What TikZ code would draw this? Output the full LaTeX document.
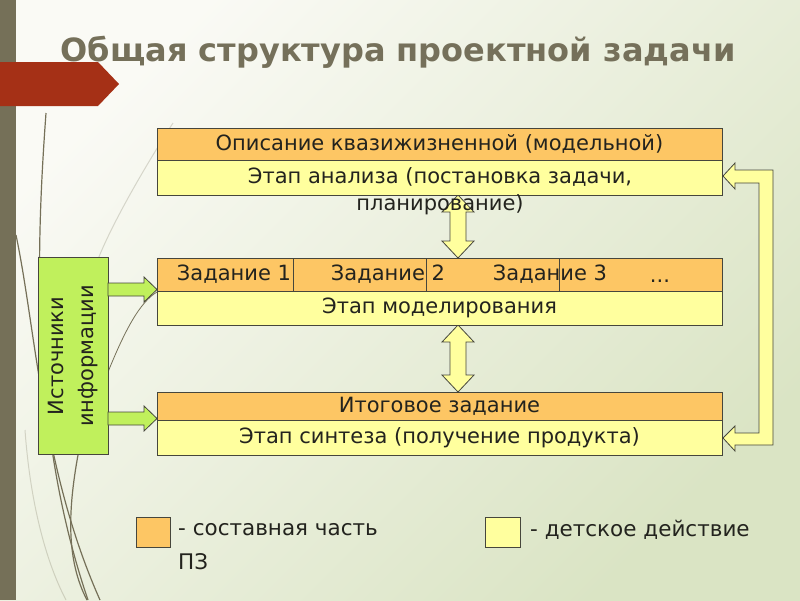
\documentclass[tikz,border=0pt]{standalone}
\usepackage{fontspec}
\setmainfont{DejaVu Sans}
\usetikzlibrary{calc}
\definecolor{bgA}{RGB}{250,250,245}
\definecolor{bgB}{RGB}{218,228,196}
\definecolor{barC}{RGB}{117,112,88}
\definecolor{redC}{RGB}{165,48,22}
\definecolor{titleC}{RGB}{117,112,90}
\definecolor{oraC}{RGB}{253,198,100}
\definecolor{yelC}{RGB}{255,255,158}
\definecolor{grnC}{RGB}{192,240,92}
\definecolor{lineC}{RGB}{70,70,60}
\definecolor{txtC}{RGB}{35,35,30}
\tikzset{
  obox/.style={draw=lineC, line width=0.8pt, fill=oraC, inner sep=0pt, text=txtC, font=\fontsize{21}{24}\selectfont},
  ybox/.style={draw=lineC, line width=0.8pt, fill=yelC, inner sep=0pt, text=txtC, font=\fontsize{21}{24}\selectfont},
  lbl/.style={inner sep=0pt, text=txtC, font=\fontsize{21}{24}\selectfont},
  yarrow/.style={draw=lineC, line width=0.8pt, fill=yelC, line join=miter},
  garrow/.style={draw=lineC, line width=0.8pt, fill=grnC, line join=miter},
  deco/.style={draw=barC, line width=1.2pt},
  decol/.style={draw=barC, line width=1pt, opacity=0.25}
}
\begin{document}
\begin{tikzpicture}[x=1pt,y=-1pt]
\useasboundingbox (0,0) rectangle (800,600);
\shade[top color=bgA, bottom color=bgB, shading angle=45] (0,0) rectangle (800,600);
% decorative strokes
\draw[decol] (173,123) .. controls (130,190) and (105,240) .. (97,262);
\draw[decol] (25,430) .. controls (30,500) and (45,560) .. (66,600);
\draw[deco] (46,113) .. controls (36,250) and (30,430) .. (88,600);
\draw[deco] (16,235) .. controls (36,330) and (42,470) .. (100,600);
\draw[deco] (78,455) .. controls (68,510) and (66,560) .. (87,600);
\draw[deco, line width=0.8pt] (108,372) .. controls (125,330) and (140,302) .. (157,292);
% left bar and banner
\fill[barC] (0,0) rectangle (16,600);
\fill[redC] (0,62) -- (98,62) -- (119,84) -- (98,106) -- (0,106) -- cycle;
% title
\node[text=titleC, font=\bfseries\fontsize{32}{36}\selectfont, inner sep=0pt] (title) at (398,52) {Общая структура проектной задачи};
% block arrows between stages
\coordinate (a1t) at (458,195);
\coordinate (a1b) at (458,258);
\coordinate (a2t) at (458,325);
\coordinate (a2b) at (458,392);
\draw[yarrow] (a1t) -- ++(16,17) -- ++(-8,0) -- ($(a1b)+(8,-17)$) -- ++(8,0) -- (a1b) -- ++(-16,-17) -- ++(8,0) -- ($(a1t)+(-8,17)$) -- ++(-8,0) -- cycle;
\draw[yarrow] (a2t) -- ++(16,17) -- ++(-8,0) -- ($(a2b)+(8,-17)$) -- ++(8,0) -- (a2b) -- ++(-16,-17) -- ++(8,0) -- ($(a2t)+(-8,17)$) -- ++(-8,0) -- cycle;
% stage 1
\node[obox, minimum width=565pt, minimum height=32pt] (o1) at (439.5,144) {Описание квазижизненной (модельной)};
\node[ybox, minimum width=565pt, minimum height=35pt] (y1) at (439.5,177.5) {};
\node[lbl] (t1a) at (440,177) {Этап анализа (постановка задачи,};
\node[lbl] (t1b) at (440,205) {планирование)};
% stage 2
\node[obox, minimum width=565pt, minimum height=33pt] (o2) at (439.5,274.5) {};
\draw[lineC, line width=0.8pt] (293,258) -- (293,291) (426,258) -- (426,291) (559,258) -- (559,291);
\node[lbl] (z1) at (234,274) {Задание 1};
\node[lbl] (z2) at (388,274) {Задание 2};
\node[lbl] (z3) at (550,274) {Задание 3};
\node[lbl, anchor=base] (z4) at (660,282) {...};
\node[ybox, minimum width=565pt, minimum height=34pt] (y2) at (439.5,308) {Этап моделирования};
% stage 3
\node[obox, minimum width=565pt, minimum height=28pt] (o3) at (439.5,406) {Итоговое задание};
\node[ybox, minimum width=565pt, minimum height=35pt] (y3) at (439.5,437.5) {Этап синтеза (получение продукта)};
% sources
\node[draw=lineC, line width=0.8pt, fill=grnC, minimum width=70pt, minimum height=197pt, inner sep=0pt] (src) at (73,356) {};
\node[lbl, rotate=90, align=center, font=\fontsize{21}{30}\selectfont] (srct) at (73,356) {Источники\\информации};
\draw[garrow] (108,283) -- (144,283) -- (144,277) -- (157,289.5) -- (144,302) -- (144,296) -- (108,296) -- cycle;
\draw[garrow] (108,412) -- (144,412) -- (144,406) -- (157,418.5) -- (144,431) -- (144,425) -- (108,425) -- cycle;
% feedback arrow
\draw[yarrow] (723,176) -- (735,163) -- (735,170) -- (773,170) -- (773,445) -- (735,445) -- (735,451) -- (723,438) -- (735,426) -- (735,433) -- (759,433) -- (759,183) -- (735,183) -- (735,189) -- cycle;
% legend
\node[draw=lineC, line width=0.8pt, fill=oraC, minimum width=34pt, minimum height=30pt, inner sep=0pt] (lo) at (153,532) {};
\node[draw=lineC, line width=0.8pt, fill=yelC, minimum width=35pt, minimum height=30pt, inner sep=0pt] (ly) at (502.5,532) {};
\node[lbl, anchor=west, font=\fontsize{21.5}{24}\selectfont] (lot) at (178,530) {- составная часть};
\node[lbl, anchor=west, font=\fontsize{21.5}{24}\selectfont] (lot2) at (178,562) {ПЗ};
\node[lbl, anchor=west, font=\fontsize{21.5}{24}\selectfont] (lyt) at (530,530) {- детское действие};
\end{tikzpicture}
\end{document}
